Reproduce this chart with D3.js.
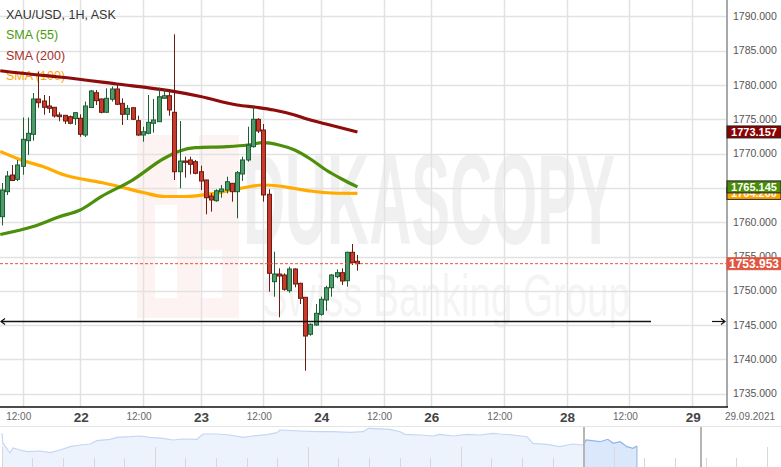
<!DOCTYPE html>
<html><head><meta charset="utf-8">
<script src="https://cdn.jsdelivr.net/npm/d3@7"></script>
<style>html,body{margin:0;padding:0;background:#fff;overflow:hidden}svg{display:block;font-family:"Liberation Sans",Arial,sans-serif}</style>
</head><body><svg id="c" width="781" height="467"></svg>
<script>
// ---- data ----
const opens  = [1760.80,1764.45,1766.88,1766.25,1768.15,1771.88,1772.81,1777.96,1777.67,1776.94,1776.75,1775.63,1775.58,1775.38,1775.12,1775.15,1772.71,1776.72,1778.88,1777.96,1776.02,1777.92,1779.42,1777.33,1775.73,1776.69,1774.80,1772.71,1772.96,1774.42,1774.65,1778.06,1778.44,1776.02,1767.36,1768.92,1769.07,1768.82,1767.36,1766.15,1763.82,1763.13,1764.45,1764.69,1765.67,1764.45,1767.03,1769.07,1771.01,1775.00,1773.44,1764.07,1751.33,1752.45,1752.30,1750.01,1753.18,1751.09,1749.05,1743.66,1745.01,1746.57,1748.66,1750.45,1752.06,1752.64,1751.47,1755.61,1754.30];
const highs  = [1765.71,1767.46,1768.34,1769.07,1775.26,1775.26,1778.83,1781.94,1778.54,1778.40,1776.80,1776.02,1775.63,1775.55,1776.06,1775.73,1777.59,1779.27,1779.27,1778.03,1779.52,1779.78,1780.22,1778.06,1777.08,1776.75,1775.52,1773.92,1778.54,1777.96,1779.61,1779.42,1779.27,1787.39,1774.75,1769.55,1769.55,1769.07,1768.24,1766.20,1764.21,1764.80,1765.42,1766.63,1765.70,1767.46,1769.55,1773.92,1776.84,1775.15,1774.31,1764.80,1755.70,1753.28,1752.55,1753.51,1753.28,1751.18,1749.10,1745.26,1748.08,1749.14,1750.74,1752.45,1753.13,1753.28,1755.70,1756.82,1755.22];
const lows   = [1759.52,1763.97,1766.00,1766.00,1766.92,1769.80,1771.88,1776.68,1775.67,1775.92,1775.26,1774.71,1774.31,1774.27,1774.17,1772.46,1772.42,1776.65,1777.08,1775.87,1775.99,1777.59,1777.08,1774.17,1774.90,1774.90,1772.57,1771.73,1772.81,1773.05,1774.65,1777.96,1775.52,1766.15,1764.94,1766.49,1766.98,1766.98,1764.69,1761.15,1761.53,1762.99,1763.57,1764.21,1762.99,1760.57,1766.01,1768.82,1770.87,1773.00,1762.99,1749.87,1749.14,1746.14,1750.01,1749.72,1750.51,1748.08,1738.35,1743.45,1744.91,1746.37,1747.10,1749.14,1751.82,1750.85,1750.60,1753.76,1752.93];
const closes = [1764.69,1766.73,1766.08,1768.34,1772.08,1772.96,1777.96,1777.42,1776.75,1776.60,1775.48,1775.38,1774.75,1774.42,1775.96,1772.81,1776.94,1779.13,1777.71,1776.02,1778.06,1779.42,1777.19,1775.73,1776.60,1775.00,1772.71,1773.19,1774.56,1774.90,1778.29,1778.44,1776.36,1767.36,1768.92,1768.73,1768.44,1767.13,1766.01,1763.57,1763.24,1764.59,1764.84,1765.90,1764.45,1767.22,1769.07,1771.25,1775.00,1773.29,1763.97,1752.55,1752.45,1752.16,1750.22,1753.18,1750.99,1748.91,1743.41,1745.12,1746.72,1748.76,1750.45,1752.30,1752.64,1751.43,1755.61,1754.10,1753.953];

const sma200Idx = [-0.3,7,11,22,32,38,45,49,52,56,58,62,68];
const sma200Val = [1782.08,1781.46,1781.17,1780.15,1779.17,1778.32,1777.08,1776.72,1776.36,1775.63,1775.12,1774.31,1773.157];
const sma55Idx  = [-0.3,6,11,15,19,25,31,34,37,43,47,50,53,56,59,62,65,68];
const sma55Val  = [1758.21,1759.37,1760.80,1761.78,1763.72,1766.15,1769.29,1770.38,1770.86,1771.01,1771.25,1771.59,1771.25,1770.52,1769.21,1767.61,1766.30,1765.145];
const sma100Idx = [-0.3,4,8,12,19,22,27,31,35,41,46,50,53,56,59,63,68];
const sma100Val = [1770.31,1768.99,1768.09,1766.88,1765.79,1765.28,1764.33,1763.75,1763.75,1764.26,1764.99,1765.42,1765.28,1764.91,1764.55,1764.26,1764.200];

const priceTicks = [1735,1740,1745,1750,1755,1760,1765,1770,1775,1780,1785,1790];
const timeTickIdx = [4,15,27,38,50,61,73,82,96,108,120,132];
const timeTickLabels = ["12:00","22","12:00","23","12:00","24","12:00","26","12:00","28","12:00","29"];
const lastDateLabel = "29.09.2021";
const levelValue = 1745.6;
const currentPrice = 1753.953;
const legendItems = ["XAU/USD, 1H, ASK","SMA (55)","SMA (200)","SMA (100)"];

const navDay = [0.01,0.04,0.27,0.37,0.6,0.83,1.25,1.58,1.91,2.23,2.56,2.89,3.11,3.54,3.77,4.19,4.52,4.85,5.27,5.6,5.92,6.38,6.58,7.04,7.46,7.89,8.21,8.67,9.0,9.09,9.75,10.3,10.83,11.38,11.81,11.98,12.69,13.02,13.18,13.67,14.09,14.32,14.75,15.2,15.63,16.05,16.28,16.71,17.17,17.36,17.82,18.24,18.67,19.0,19.1,19.55,19.81,19.98,20.21,20.43,20.63,20.76];
const navVal = [1789.4,1770,1750,1760,1756,1752.6,1754,1750.6,1756,1762.6,1766,1768,1774.6,1777.4,1781.4,1782.6,1784,1781.4,1779.4,1776,1778,1777.4,1788,1788,1786,1781.4,1784,1786.6,1790.6,1796,1794,1792.6,1792.6,1791.4,1792.6,1799.4,1797.4,1792.6,1787.4,1786,1784,1787.4,1784,1787.4,1786,1789.4,1788,1786,1782.6,1769.4,1767.4,1762.6,1768,1766,1776,1772.6,1777.4,1769.4,1772.6,1762.6,1759.4,1764];
const navWindowStart = 19.0;
const navTicks = d3.range(0,26);

// ---- layout ----
const W = 781, H = 467;
const plotRight = 727, plotBottom = 407;
const svg = d3.select("#c");
const x = d3.scaleLinear().domain([0,132]).range([1.8, 1.8+5.23*132]);
const y = d3.scaleLinear().domain([1735,1790]).range([393.7,16.4]);

svg.append("rect").attr("width",W).attr("height",H).attr("fill","#fff");

// watermark
const wm = svg.append("g");
wm.append("rect").attr("x",137).attr("y",135).attr("width",102).attr("height",183).attr("fill","#fdf3f2");
wm.append("rect").attr("x",155).attr("y",205).attr("width",22).attr("height",93).attr("fill","#fff");
wm.append("rect").attr("x",177).attr("y",135).attr("width",22).attr("height",60).attr("fill","#fff");
wm.append("rect").attr("x",200).attr("y",250).attr("width",22).attr("height",48).attr("fill","#fff");
wm.append("text").attr("x",243).attr("y",244).attr("font-size",128).attr("font-weight","bold")
  .attr("textLength",372).attr("lengthAdjust","spacingAndGlyphs").attr("fill","#000").attr("opacity",0.055).text("DUKASCOPY");
wm.append("text").attr("x",262).attr("y",316).attr("font-size",60)
  .attr("textLength",368).attr("lengthAdjust","spacingAndGlyphs").attr("fill","#000").attr("opacity",0.04).text("Swiss Banking Group");

// grid
const grid = svg.append("g");
grid.selectAll("line.h").data(priceTicks).join("line")
  .attr("x1",0).attr("x2",plotRight).attr("y1",d=>Math.round(y(d))+0.5).attr("y2",d=>Math.round(y(d))+0.5)
  .attr("stroke","#e2e2e2").attr("stroke-width",1.5);
grid.selectAll("line.v").data(timeTickIdx).join("line")
  .attr("x1",d=>Math.round(x(d))+0.5).attr("x2",d=>Math.round(x(d))+0.5).attr("y1",0).attr("y2",plotBottom)
  .attr("stroke","#e2e2e2").attr("stroke-width",1.5);

// legend
const legColors = ["#333","#4a9a0a","#a5302a","#ffa500"];
svg.selectAll("text.leg").data(legendItems).join("text")
  .attr("x",6).attr("y",(d,i)=>19+i*20.3).attr("font-size",12.5).attr("fill",(d,i)=>legColors[i]).text(d=>d);

// SMA lines
function smaLine(idx, val, color){
  const pts = idx.map((d,i)=>[d,val[i]]);
  svg.append("path").datum(pts)
    .attr("d", d3.line().x(d=>x(d[0])).y(d=>y(d[1])).curve(d3.curveMonotoneX))
    .attr("fill","none").attr("stroke",color).attr("stroke-width",3.2).attr("stroke-linejoin","round");
}
smaLine(sma100Idx, sma100Val, "#ffab00");
smaLine(sma55Idx, sma55Val, "#4c8f0a");
smaLine(sma200Idx, sma200Val, "#8e0c0c");

// candles
const candles = opens.map((o,i)=>({i, o, h:highs[i], l:lows[i], c:closes[i]}));
const cg = svg.append("g").selectAll("g").data(candles).join("g");
cg.append("line")
  .attr("x1",d=>Math.round(x(d.i))+0.5).attr("x2",d=>Math.round(x(d.i))+0.5)
  .attr("y1",d=>y(d.h)).attr("y2",d=>y(d.l))
  .attr("stroke",d=>d.c>=d.o?"#1d5e35":"#6b1d12").attr("stroke-width",1);
cg.append("rect")
  .attr("x",d=>Math.round(x(d.i))-1.5).attr("width",4)
  .attr("y",d=>y(Math.max(d.o,d.c))).attr("height",d=>Math.max(1,y(Math.min(d.o,d.c))-y(Math.max(d.o,d.c))))
  .attr("fill",d=>d.c>=d.o?"#4d9a6b":"#c93a2c").attr("stroke",d=>d.c>=d.o?"#1d5e35":"#6b1d12").attr("stroke-width",1);

// current price dashed line
svg.append("line").attr("x1",0).attr("x2",plotRight).attr("y1",y(currentPrice)).attr("y2",y(currentPrice))
  .attr("stroke","#e8503a").attr("stroke-width",1).attr("stroke-dasharray","3,2");

// level line with arrows
const ly = Math.round(y(levelValue))+0.5;
svg.append("line").attr("x1",1).attr("x2",651).attr("y1",ly).attr("y2",ly).attr("stroke","#111").attr("stroke-width",1.3);
svg.append("path").attr("d",`M5,${ly-3} L1,${ly} L5,${ly+3}`).attr("fill","none").attr("stroke","#111").attr("stroke-width",1.2);
svg.append("line").attr("x1",712).attr("x2",725).attr("y1",ly).attr("y2",ly).attr("stroke","#111").attr("stroke-width",1.2);
svg.append("path").attr("d",`M721,${ly-3} L725,${ly} L721,${ly+3}`).attr("fill","none").attr("stroke","#111").attr("stroke-width",1.2);

// axes frame
svg.append("line").attr("x1",plotRight).attr("x2",plotRight).attr("y1",0).attr("y2",plotBottom).attr("stroke","#a8a8a8").attr("stroke-width",2);
svg.append("line").attr("x1",0).attr("x2",plotRight+1).attr("y1",plotBottom).attr("y2",plotBottom).attr("stroke","#111").attr("stroke-width",1.5);

// right axis labels
svg.selectAll("text.pt").data(priceTicks).join("text")
  .attr("x",733).attr("y",d=>y(d)+3.5).attr("font-size",10.5).attr("fill","#555").text(d=>d.toFixed(3));

// value tags
function tag(v, bg, border, fs){
  const g = svg.append("g");
  g.append("rect").attr("x",727).attr("y",y(v)-6).attr("width",54).attr("height",12).attr("fill",bg).attr("stroke",border).attr("stroke-width",1);
  g.append("text").attr("x",754).attr("y",y(v)+4).attr("text-anchor","middle").attr("font-size",fs).attr("font-weight","bold").attr("fill","#fff").text(v.toFixed(3));
}
tag(sma100Val[sma100Val.length-1], "#ffa500", "#222", 11);
tag(sma55Val[sma55Val.length-1], "#4b8b0a", "#222", 11);
tag(sma200Val[sma200Val.length-1], "#8b0000", "#222", 11);
tag(currentPrice, "#e0553f", "#e0553f", 12);

// bottom time labels
svg.selectAll("text.tt").data(timeTickIdx).join("text")
  .attr("x",(d,i)=>x(d)+(timeTickLabels[i]==="12:00"?-4:1)).attr("y",(d,i)=>timeTickLabels[i]==="12:00"?420:422)
  .attr("text-anchor","middle")
  .attr("font-size",(d,i)=>timeTickLabels[i]==="12:00"?10:13.5)
  .attr("font-weight",(d,i)=>timeTickLabels[i]==="12:00"?"normal":"bold")
  .attr("fill",(d,i)=>timeTickLabels[i]==="12:00"?"#666":"#444")
  .text((d,i)=>timeTickLabels[i]);
svg.append("text").attr("x",750).attr("y",420).attr("text-anchor","middle").attr("font-size",10).attr("fill","#666").text(lastDateLabel);

// navigator
const nx = d3.scaleLinear().domain([0,25]).range([1.7, 1.7+30.6*25]);
const ny = d3.scaleLinear().domain([1720,1800]).range([468,428]);
svg.append("line").attr("x1",0).attr("x2",W).attr("y1",426.5).attr("y2",426.5).attr("stroke","#e4e4e4");
const navPts = navDay.map((d,i)=>[d,navVal[i]]);
const partA = navPts.filter(p=>p[0]<=navWindowStart);
const partB = navPts.filter(p=>p[0]>=navWindowStart);
const area = d3.area().x(d=>nx(d[0])).y0(467).y1(d=>ny(d[1]));
const nline = d3.line().x(d=>nx(d[0])).y(d=>ny(d[1]));
svg.append("path").datum(partA).attr("d",area).attr("fill","#edf3fd");
svg.append("path").datum(partB).attr("d",area).attr("fill","#dbe7fa");
svg.append("path").datum(partA).attr("d",nline).attr("fill","none").attr("stroke","#c3d7f5").attr("stroke-width",1.2);
svg.append("path").datum(partB).attr("d",nline).attr("fill","none").attr("stroke","#8fb3ec").attr("stroke-width",1.2);
const lastNav = navPts[navPts.length-1];
svg.append("line").attr("x1",nx(lastNav[0])).attr("x2",nx(lastNav[0])).attr("y1",ny(lastNav[1])).attr("y2",467).attr("stroke","#8fb3ec");
svg.selectAll("line.nt").data(navTicks).join("line")
  .attr("x1",d=>Math.round(nx(d))+0.5).attr("x2",d=>Math.round(nx(d))+0.5)
  .attr("y1",d=>d%5===0?447:458).attr("y2",467).attr("stroke","#d8d8d8");
svg.append("rect").attr("x",583).attr("y",427).attr("width",2).attr("height",40).attr("fill","#b5b5b5");
svg.append("rect").attr("x",700).attr("y",427).attr("width",2).attr("height",40).attr("fill","#b5b5b5");
</script></body></html>
